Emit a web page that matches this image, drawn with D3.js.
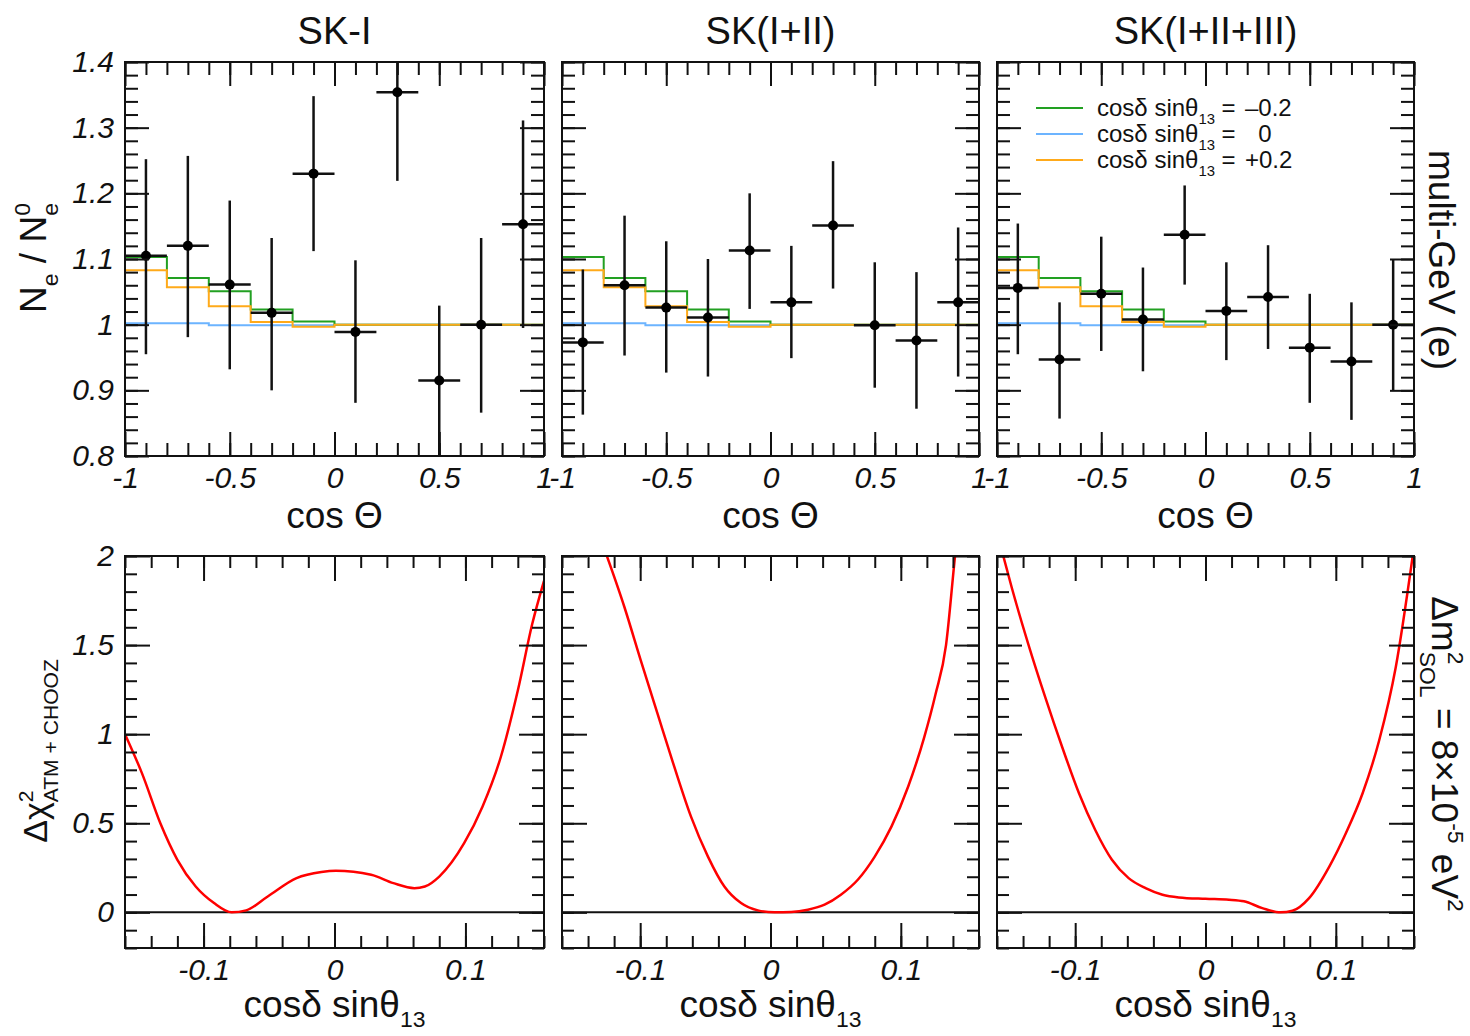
<!DOCTYPE html>
<html>
<head>
<meta charset="utf-8">
<script src="https://cdn.jsdelivr.net/npm/d3@7"></script>
<style>
  body { margin: 0; background: #fff; }
  text { font-family: "Liberation Sans", Arial, Helvetica, sans-serif; fill: #111; }
</style>
</head>
<body>
<div id="chart"></div>
<script>
// ---- data ----
const samples = ["SK-I", "SK(I+II)", "SK(I+II+III)"];
const binEdges = [-1, -0.8, -0.6, -0.4, -0.2, 0, 0.2, 0.4, 0.6, 0.8, 1];
const binCenters = [-0.9, -0.7, -0.5, -0.3, -0.1, 0.1, 0.3, 0.5, 0.7, 0.9];

// Ne/Ne0 data points (value, upper and lower end of error bar)
const ratioSKI   = [1.105, 1.120, 1.061, 1.018, 1.230, 0.989, 1.354, 0.915, 1.000, 1.153];
const hiSKI      = [1.252, 1.257, 1.189, 1.132, 1.348, 1.098, 1.490, 1.029, 1.132, 1.311];
const loSKI      = [0.955, 0.981, 0.932, 0.900, 1.112, 0.881, 1.219, 0.790, 0.866, 0.995];
const ratioSKII  = [0.973, 1.060, 1.026, 1.011, 1.113, 1.034, 1.151, 0.999, 0.976, 1.034];
const hiSKII     = [1.084, 1.166, 1.127, 1.100, 1.200, 1.120, 1.249, 1.095, 1.080, 1.148];
const loSKII     = [0.863, 0.953, 0.927, 0.921, 1.024, 0.949, 1.055, 0.904, 0.872, 0.921];
const ratioSKIII = [1.056, 0.947, 1.047, 1.008, 1.137, 1.021, 1.042, 0.965, 0.944, 1.000];
const hiSKIII    = [1.154, 1.034, 1.134, 1.087, 1.212, 1.095, 1.121, 1.047, 1.034, 1.100];
const loSKIII    = [0.955, 0.857, 0.960, 0.929, 1.061, 0.946, 0.963, 0.881, 0.855, 0.900];

// expected ratio for cosd sin13 = -0.2, 0, +0.2
const predMinus = [1.103, 1.071, 1.051, 1.023, 1.005, 1.000, 1.000, 1.000, 1.000, 1.000];
const predZero  = [1.002, 1.002, 0.999, 0.999, 0.999, 1.000, 1.000, 1.000, 1.000, 1.000];
const predPlus  = [1.083, 1.057, 1.028, 1.004, 0.997, 1.000, 1.000, 1.000, 1.000, 1.000];
const legendValues = ["\u20130.2", "0", "+0.2"];

// delta chi2 vs cosd sin13
const chiX_SKI = [-0.160, -0.147, -0.133, -0.120, -0.106, -0.092, -0.0785, -0.0675, -0.051, -0.029, -0.010, 0.001,
                  0.028, 0.045, 0.061, 0.069, 0.080, 0.099, 0.113, 0.127, 0.140, 0.151, 0.160];
const chiY_SKI = [1.00, 0.78, 0.50, 0.295, 0.145, 0.052, 0.0, 0.011, 0.089, 0.192, 0.226, 0.233,
                  0.211, 0.164, 0.136, 0.145, 0.201, 0.388, 0.593, 0.872, 1.245, 1.618, 1.86];
const chiX_SKII = [-0.128, -0.112, -0.0995, -0.0867, -0.0738, -0.061, -0.048, -0.0354, -0.0226, -0.0097, 0.003, 0.016,
                   0.0287, 0.0415, 0.054, 0.067, 0.080, 0.0928, 0.1056, 0.118, 0.1265, 0.1347, 0.1416, 0.146];
const chiY_SKII = [2.05, 1.711, 1.413, 1.115, 0.816, 0.537, 0.313, 0.145, 0.052, 0.011, 0.0, 0.002,
                   0.015, 0.043, 0.099, 0.183, 0.313, 0.481, 0.705, 0.984, 1.22, 1.50, 2.0, 2.3];
const chiX_SKIII = [-0.157, -0.1487, -0.136, -0.123, -0.110, -0.097, -0.0846, -0.0718, -0.059, -0.046, -0.033, -0.0205,
                    0.0, 0.018, 0.0295, 0.0436, 0.0577, 0.0667, 0.0795, 0.095, 0.1077, 0.1205, 0.1333, 0.146, 0.159];
const chiY_SKIII = [2.05, 1.823, 1.506, 1.208, 0.928, 0.667, 0.462, 0.295, 0.192, 0.136, 0.099, 0.084,
                    0.076, 0.071, 0.062, 0.024, 0.0, 0.009, 0.080, 0.257, 0.444, 0.667, 0.966, 1.376, 2.0];

// tick values
const topXMajor = [-1, -0.5, 0, 0.5, 1];
const topYMajor = [0.8, 0.9, 1, 1.1, 1.2, 1.3, 1.4];
const botXMajor = [-0.1, 0, 0.1];
const botYMajor = [0, 0.5, 1, 1.5, 2];

const ratioData = [[ratioSKI, hiSKI, loSKI], [ratioSKII, hiSKII, loSKII], [ratioSKIII, hiSKIII, loSKIII]];
const chiData = [[chiX_SKI, chiY_SKI], [chiX_SKII, chiY_SKII], [chiX_SKIII, chiY_SKIII]];

// ---- layout ----
const W = 1470, H = 1036;
const panelX = [[125, 544], [562, 979], [997, 1414]];
const topY = [456, 62], botY = [948, 556];
const colGreen = "#22a022", colBlue = "#6cb4ff", colOrange = "#ffaa1a";
const tickFont = 30, titleFont = 38, axisFont = 37;

const svg = d3.select("#chart").append("svg")
    .attr("width", W).attr("height", H)
    .style("background", "#fff");

function rangeStep(a, b, s) {
  const n = Math.round((b - a) / s);
  return d3.range(n + 1).map(i => +(a + i * s).toFixed(4));
}

// rich text with sub/superscripts; part.back moves back over previous part
function rich(text, parts, fs, subShift = 0.32) {
  let shift = 0, prevLen = 0;
  parts.forEach(p => {
    const target = p.s === "sub" ? subShift * fs : p.s === "sup" ? -0.42 * fs : 0;
    const ts = text.append("tspan")
        .attr("dy", target - shift)
        .style("font-size", (p.s ? 0.62 * fs : fs) + "px")
        .text(p.t);
    if (p.back) ts.attr("dx", -prevLen);
    shift = target;
    prevLen = ts.node().getComputedTextLength();
  });
}

function drawFrame(g, x, y, xMajor, xMinor, yMajor, yMinor, majLen, minLen, showY) {
  const [x0, x1] = x.range(), [y0, y1] = y.range();
  const fmt = d => String(d);
  const axes = [
    [d3.axisBottom, `translate(0,${y0})`, x, xMajor, xMinor, fmt],
    [d3.axisTop, `translate(0,${y1})`, x, xMajor, xMinor, ""],
    [d3.axisLeft, `translate(${x0},0)`, y, yMajor, yMinor, showY ? fmt : ""],
    [d3.axisRight, `translate(${x1},0)`, y, yMajor, yMinor, ""]
  ];
  axes.forEach(([ax, tr, sc, maj, min, f]) => {
    g.append("g").attr("transform", tr)
      .call(ax(sc).tickValues(min).tickSize(-minLen).tickFormat(""))
      .call(a => a.select(".domain").remove());
    const m = g.append("g").attr("transform", tr)
      .call(ax(sc).tickValues(maj).tickSize(-majLen).tickPadding(11).tickFormat(f))
      .call(a => a.select(".domain").remove());
    m.selectAll("text")
      .style("font-size", tickFont + "px")
      .style("font-style", "italic")
      .attr("fill", "#111");
  });
  g.selectAll(".tick line").attr("stroke", "#111").attr("stroke-width", 2);
  g.append("rect")
    .attr("x", x0).attr("y", y1)
    .attr("width", x1 - x0).attr("height", y0 - y1)
    .attr("fill", "none").attr("stroke", "#111").attr("stroke-width", 2);
}

// ---- top row: Ne / Ne0 vs cos theta ----
samples.forEach((name, i) => {
  const x = d3.scaleLinear().domain([-1, 1]).range(panelX[i]);
  const y = d3.scaleLinear().domain([0.8, 1.4]).range(topY);
  const g = svg.append("g");
  const clipId = "clipTop" + i;
  svg.append("clipPath").attr("id", clipId).append("rect")
    .attr("x", panelX[i][0]).attr("y", topY[1])
    .attr("width", panelX[i][1] - panelX[i][0]).attr("height", topY[0] - topY[1]);

  const plot = g.append("g").attr("clip-path", `url(#${clipId})`);

  const step = d3.line().x(d => x(d[0])).y(d => y(d[1]));
  const stepPts = vals => vals.flatMap((v, k) => [[binEdges[k], v], [binEdges[k + 1], v]]);
  [[predZero, colBlue], [predMinus, colGreen], [predPlus, colOrange]].forEach(([vals, c]) => {
    plot.append("path").attr("d", step(stepPts(vals)))
      .attr("fill", "none").attr("stroke", c).attr("stroke-width", 2);
  });

  const [vals, hi, lo] = ratioData[i];
  const pts = plot.append("g").selectAll("g").data(binCenters).enter().append("g");
  pts.append("line")
    .attr("x1", d => x(d)).attr("x2", d => x(d))
    .attr("y1", (d, k) => y(hi[k])).attr("y2", (d, k) => y(lo[k]))
    .attr("stroke", "#111").attr("stroke-width", 2.5);
  pts.append("line")
    .attr("x1", (d, k) => x(binEdges[k])).attr("x2", (d, k) => x(binEdges[k + 1]))
    .attr("y1", (d, k) => y(vals[k])).attr("y2", (d, k) => y(vals[k]))
    .attr("stroke", "#111").attr("stroke-width", 2.5);
  pts.append("circle")
    .attr("cx", d => x(d)).attr("cy", (d, k) => y(vals[k]))
    .attr("r", 5).attr("fill", "#000");

  drawFrame(g, x, y, topXMajor, rangeStep(-1, 1, 0.1), topYMajor, rangeStep(0.8, 1.4, 0.02), 24, 13, i === 0);

  // panel title
  svg.append("text")
    .attr("x", (panelX[i][0] + panelX[i][1]) / 2).attr("y", 44)
    .attr("text-anchor", "middle").style("font-size", titleFont + "px")
    .text(name);
  // x title
  svg.append("text")
    .attr("x", (panelX[i][0] + panelX[i][1]) / 2).attr("y", 528)
    .attr("text-anchor", "middle").style("font-size", axisFont + "px")
    .text("cos \u0398");
});

// ---- bottom row: delta chi2 ----
samples.forEach((name, i) => {
  const x = d3.scaleLinear().domain([-0.16, 0.16]).range(panelX[i]);
  const y = d3.scaleLinear().domain([-0.2, 2]).range(botY);
  const g = svg.append("g");
  const clipId = "clipBot" + i;
  svg.append("clipPath").attr("id", clipId).append("rect")
    .attr("x", panelX[i][0]).attr("y", botY[1])
    .attr("width", panelX[i][1] - panelX[i][0]).attr("height", botY[0] - botY[1]);
  const plot = g.append("g").attr("clip-path", `url(#${clipId})`);

  plot.append("line")
    .attr("x1", x(-0.16)).attr("x2", x(0.16))
    .attr("y1", y(0)).attr("y2", y(0))
    .attr("stroke", "#111").attr("stroke-width", 2);

  const [cx, cy] = chiData[i];
  const line = d3.line().curve(d3.curveMonotoneX)
    .x((d, k) => x(cx[k])).y(d => y(d));
  plot.append("path").attr("d", line(cy))
    .attr("fill", "none").attr("stroke", "#ff0000").attr("stroke-width", 2.5);

  drawFrame(g, x, y, botXMajor, rangeStep(-0.16, 0.16, 0.02), botYMajor, rangeStep(-0.2, 2, 0.1), 25, 12, i === 0);

  const t = svg.append("text")
    .attr("x", (panelX[i][0] + panelX[i][1]) / 2).attr("y", 1017)
    .attr("text-anchor", "middle").style("font-size", axisFont + "px");
  rich(t, [{t: "cos\u03b4 sin\u03b8"}, {t: "13", s: "sub"}], axisFont, 0.26);
});

// ---- legend (third top panel) ----
const legRows = [[colGreen, legendValues[0]], [colBlue, legendValues[1]], [colOrange, legendValues[2]]];
const legFont = 24;
legRows.forEach(([c, v], k) => {
  const ly = 108 + k * 26;
  svg.append("line").attr("x1", 1036).attr("x2", 1083).attr("y1", ly).attr("y2", ly)
    .attr("stroke", c).attr("stroke-width", 2);
  const t = svg.append("text").attr("x", 1097).attr("y", ly + 8).style("font-size", legFont + "px");
  rich(t, [{t: "cos\u03b4 sin\u03b8"}, {t: "13", s: "sub"}, {t: " ="}], legFont);
  const vt = svg.append("text").attr("x", 1245).attr("y", ly + 8).style("font-size", legFont + "px").text(v);
  if (v === "0") {
    const probe = svg.append("text").style("font-size", legFont + "px").text("\u2013");
    vt.attr("x", 1245 + probe.node().getComputedTextLength());
    probe.remove();
  }
});

// ---- y axis titles ----
const yt1 = svg.append("text")
  .attr("transform", "translate(46,258) rotate(-90)")
  .attr("text-anchor", "middle").style("font-size", axisFont + "px");
rich(yt1, [{t: "N"}, {t: "e", s: "sub"}, {t: " / N"}, {t: "0", s: "sup"}, {t: "e", s: "sub", back: true}], axisFont);

const yt2 = svg.append("text")
  .attr("transform", "translate(47,751) rotate(-90)")
  .attr("text-anchor", "middle").style("font-size", "34px");
rich(yt2, [{t: "\u0394\u03c7"}, {t: "2", s: "sup"}, {t: "ATM + CHOOZ", s: "sub", back: true}], 34);

// ---- right side labels ----
svg.append("text")
  .attr("transform", "translate(1429,260) rotate(90)")
  .attr("text-anchor", "middle").style("font-size", axisFont + "px")
  .text("multi-GeV (e)");

const rt = svg.append("text")
  .attr("transform", "translate(1432,754) rotate(90)")
  .attr("text-anchor", "middle").style("font-size", axisFont + "px");
rich(rt, [{t: "\u0394m"}, {t: "2", s: "sup"}, {t: "SOL", s: "sub", back: true}, {t: " = 8\u00d710"}, {t: "-5", s: "sup"}, {t: " eV"}, {t: "2", s: "sup"}], axisFont);
</script>
</body>
</html>
